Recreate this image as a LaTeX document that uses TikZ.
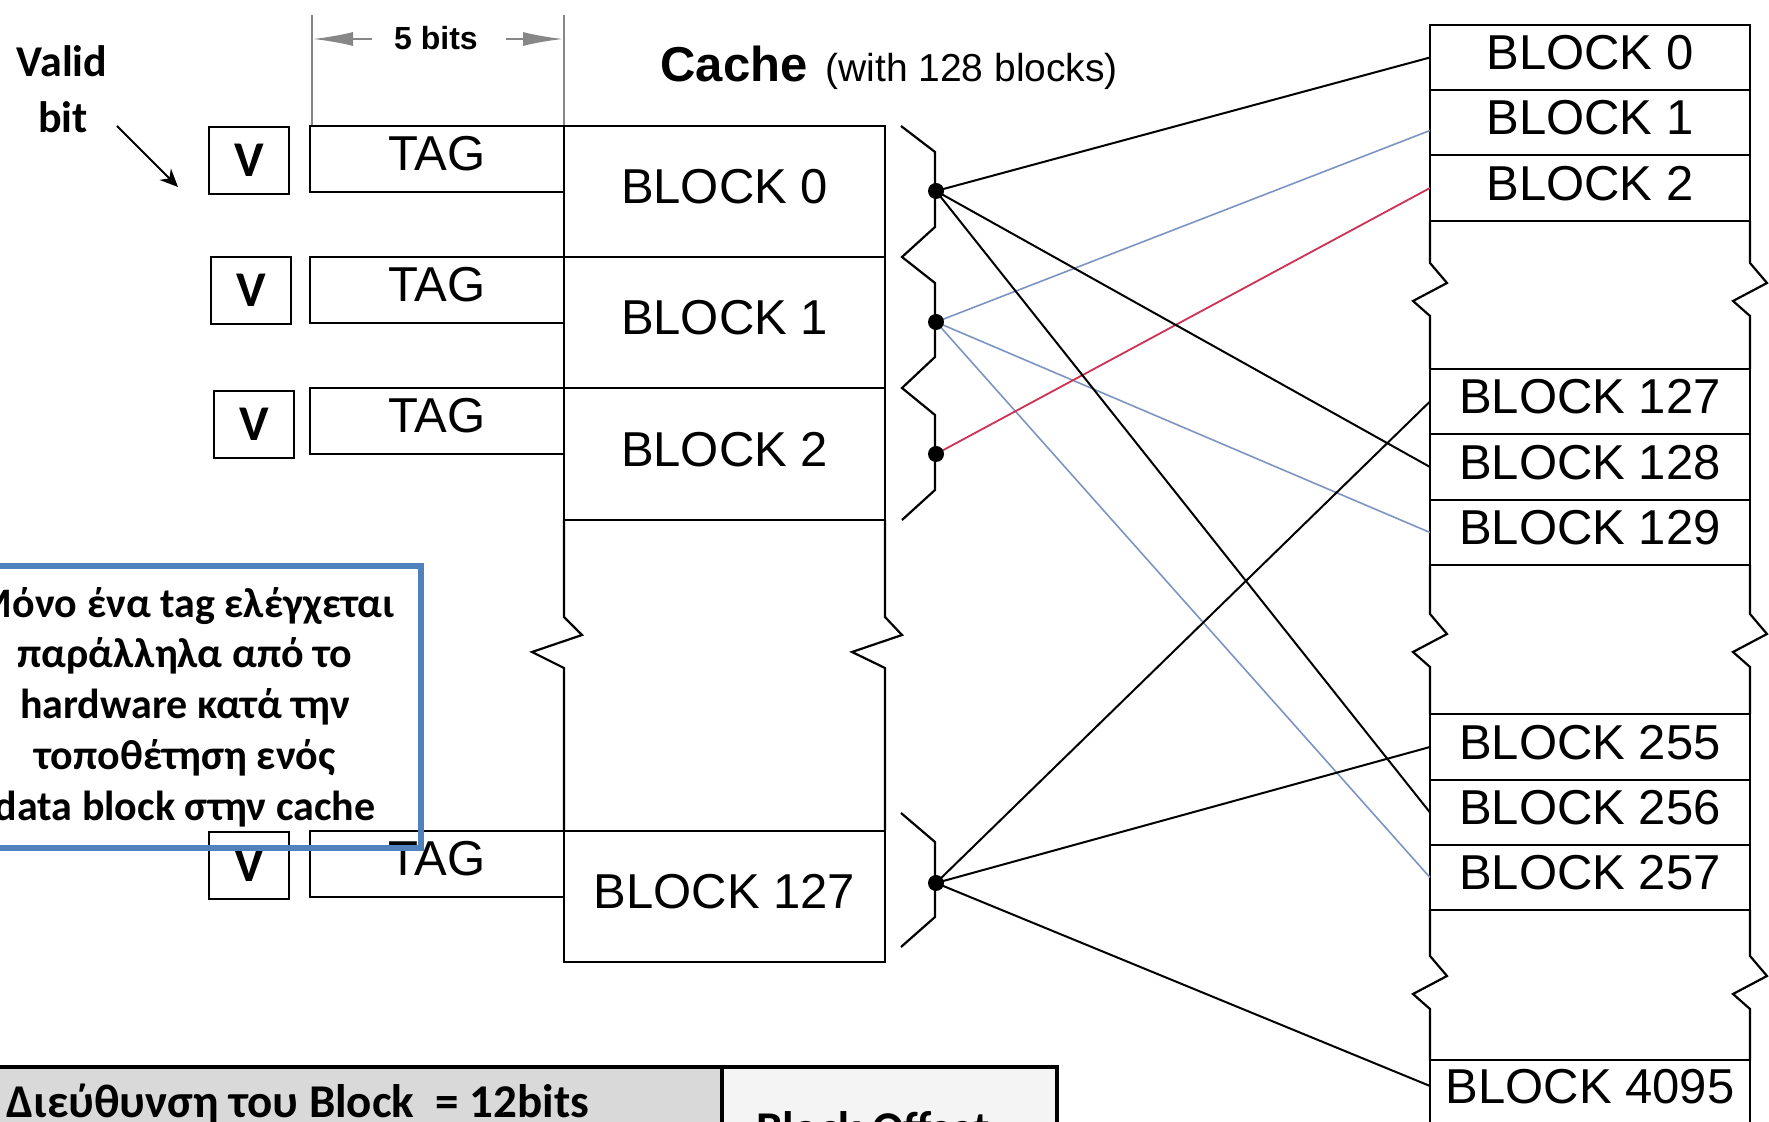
\documentclass[tikz,border=0pt]{standalone}
\usepackage{fontspec}
\setmainfont{Liberation Sans}
\newfontfamily\calf{Carlito}
\usetikzlibrary{arrows.meta}
\definecolor{linkblue}{RGB}{125,148,195}
\definecolor{linkred}{RGB}{205,50,85}
\definecolor{noteblue}{RGB}{79,129,189}
\definecolor{dimgray}{RGB}{135,135,135}
\definecolor{tablegray}{RGB}{217,217,217}
\definecolor{tablelight}{RGB}{244,244,244}
\begin{document}
\begin{tikzpicture}[x=0.5pt,y=-0.5pt,
  box/.style={draw, line width=1.1pt, inner sep=0pt, outer sep=0pt, anchor=north west, text depth=5pt},
  lbl/.style={font=\fontsize{24.5}{28}\selectfont},
  cblk/.style={box, lbl, minimum width=160.5pt},
  mblk/.style={box, lbl, minimum width=160pt},
  tagbox/.style={box, lbl, minimum width=127pt, minimum height=33pt, text depth=6pt},
  vbox/.style={draw, line width=1.2pt, inner sep=0pt, anchor=north west, minimum width=40pt, minimum height=33.5pt, font=\calf\bfseries\fontsize{25}{28}\selectfont},
  dot/.style={circle, fill=black, inner sep=0pt, minimum size=8pt},
  edge/.style={line width=1.1pt},
  conn/.style={line width=1pt, black},
  connb/.style={line width=0.8pt, linkblue},
  connr/.style={line width=0.9pt, linkred},
  dimline/.style={line width=0.6pt, dimgray},
  dimarrow/.style={line width=1pt, dimgray, -{Latex[length=20pt,width=7pt]}}
]
\useasboundingbox (0,0) rectangle (1769,1122);
\fill[white] (0,0) rectangle (1769,1122);

% ---- dimension "5 bits"
\draw[dimline] (312,15) -- (312,126);
\draw[dimline] (564,15) -- (564,126);
\node[font=\bfseries\fontsize{16}{18}\selectfont, anchor=base] (fivebits) at (436,50) {5 bits};
\coordinate (dl) at (313,39);
\coordinate (dr) at (563,39);
\coordinate (dla) at (372,39);
\coordinate (dra) at (506,39);
\draw[dimarrow] (dla) -- (dl);
\draw[dimarrow] (dra) -- (dr);

% ---- title
\node[font=\bfseries\fontsize{24.5}{28}\selectfont, anchor=base west, inner sep=0pt] (cachet) at (660,82) {Cache};
\node[font=\fontsize{19.5}{22}\selectfont, anchor=base west, inner sep=0pt] (cachesub) at (825,82) {(with 128 blocks)};

% ---- valid bit label
\node[font=\calf\bfseries\fontsize{22}{26}\selectfont, anchor=base] (valid) at (62,77) {Valid};
\node[font=\calf\bfseries\fontsize{22}{26}\selectfont, anchor=base] (bit) at (63,133) {bit};
\coordinate (va) at (117,126);
\coordinate (vb) at (178,187);
\draw[line width=1pt, -{Stealth[length=9pt,width=8pt]}] (va) -- (vb);

% ---- cache blocks
\node[cblk, minimum height=65.5pt] (c0) at (564,126) {BLOCK 0};
\node[cblk, minimum height=65.5pt] (c1) at (564,257) {BLOCK 1};
\node[cblk, minimum height=66pt] (c2) at (564,388) {BLOCK 2};
\node[cblk, minimum height=65.5pt] (c127) at (564,831) {BLOCK 127};
\draw[edge] (c2.south west) -- (564,617) -- (582,635) -- (532,652) -- (564,668) -- (c127.north west);
\draw[edge] (c2.south east) -- (885,617) -- (902,635) -- (852,652) -- (885,668) -- (c127.north east);

% ---- tags
\node[tagbox] (t0) at (310,126) {TAG};
\node[tagbox] (t1) at (310,257) {TAG};
\node[tagbox] (t2) at (310,388) {TAG};
\node[tagbox] (t3) at (310,831) {TAG};

% ---- valid boxes
\node[vbox] (v0) at (208,126) {V};
\node[vbox] (v1) at (210,256) {V};
\node[vbox] (v2) at (213,390) {V};
\node[vbox] (v3) at (208,831) {V};

% ---- braces right of cache
\draw[edge] (901,126) -- (935,152) -- (935,227) -- (902,257) -- (935,283) -- (935,357) -- (902,388) -- (935,415) -- (935,490) -- (902,520);
\draw[edge] (901,813) -- (935,842) -- (935,917) -- (901,947);

% ---- main memory
\node[mblk, minimum height=32.5pt] (m0) at (1430,25) {BLOCK 0};
\node[mblk, minimum height=32.5pt] (m1) at (1430,90) {BLOCK 1};
\node[mblk, minimum height=33pt] (m2) at (1430,155) {BLOCK 2};
\node[mblk, minimum height=32.5pt] (m127) at (1430,369) {BLOCK 127};
\node[mblk, minimum height=33pt] (m128) at (1430,434) {BLOCK 128};
\node[mblk, minimum height=32.5pt] (m129) at (1430,500) {BLOCK 129};
\node[mblk, minimum height=33pt] (m255) at (1430,714) {BLOCK 255};
\node[mblk, minimum height=32.5pt] (m256) at (1430,780) {BLOCK 256};
\node[mblk, minimum height=32.5pt] (m257) at (1430,845) {BLOCK 257};
\node[mblk, minimum height=45pt] (m4095) at (1430,1060) {};
\node[lbl, inner sep=0pt] (m4095t) at (1590,1087) {BLOCK 4095};

\draw[edge] (m2.south west) -- (1430,263) -- (1447,283) -- (1413,301) -- (1430,316) -- (m127.north west);
\draw[edge] (m2.south east) -- (1750,263) -- (1767,283) -- (1733,301) -- (1750,316) -- (m127.north east);
\draw[edge] (m129.south west) -- (1430,614) -- (1447,634) -- (1413,652) -- (1430,667) -- (m255.north west);
\draw[edge] (m129.south east) -- (1750,614) -- (1767,634) -- (1733,652) -- (1750,667) -- (m255.north east);
\draw[edge] (m257.south west) -- (1430,956) -- (1447,976) -- (1413,994) -- (1430,1009) -- (m4095.north west);
\draw[edge] (m257.south east) -- (1750,956) -- (1767,976) -- (1733,994) -- (1750,1009) -- (m4095.north east);

% ---- dots
\coordinate (d0) at (936,191);
\coordinate (d1) at (936,322);
\coordinate (d2) at (936,454);
\coordinate (d127) at (936,883);
\coordinate (e4095) at (1430,1086);

% ---- connectors
\draw[connb] (d1) -- ([yshift=-4pt]m1.west);
\draw[connb] (d1) -- (m129.west);
\draw[connb] (d1) -- (m257.west);
\draw[connr] (d2) -- (m2.west);
\draw[conn] (d0) -- (m0.west);
\draw[conn] (d0) -- (m128.west);
\draw[conn] (d0) -- (m256.west);
\draw[conn] (d127) -- (m127.west);
\draw[conn] (d127) -- (m255.west);
\draw[conn] (d127) -- (e4095);

\node[dot] (dd0) at (d0) {};
\node[dot] (dd1) at (d1) {};
\node[dot] (dd2) at (d2) {};
\node[dot] (dd127) at (d127) {};

% ---- note box
\node[draw=noteblue, line width=2.6pt, minimum width=236pt, minimum height=141pt, inner sep=0pt,
      align=center, font=\calf\bfseries\fontsize{21}{25.4}\selectfont] (note) at (185,707)
  {Μόνο ένα tag ελέγχεται\\παράλληλα από το\\hardware κατά την\\τοποθέτηση ενός\\data block στην cache};

% ---- address table
\node[draw, line width=2.2pt, fill=tablegray, anchor=north west, inner sep=0pt, minimum width=365pt, minimum height=45pt] (addr) at (-10,1065) {};
\node[draw, line width=2.2pt, fill=tablelight, anchor=north west, inner sep=0pt, minimum width=167.5pt, minimum height=45pt] (offs) at (720,1065) {};
\node[font=\calf\bfseries\fontsize{23.5}{28}\selectfont, anchor=base west, inner sep=0pt] (addrt) at (6,1117) {Διεύθυνση του Block\ \ = 12bits};
\node[font=\calf\bfseries\fontsize{23.5}{28}\selectfont, anchor=base, inner sep=0pt] (offt) at (873,1144) {Block Offset};
\end{tikzpicture}
\end{document}
